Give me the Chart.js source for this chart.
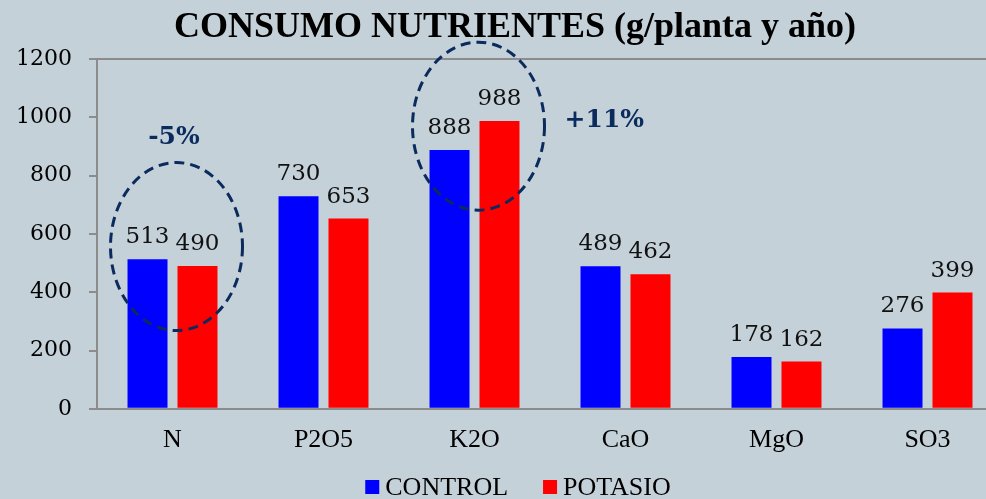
<!doctype html>
<html lang="es">
<head>
<meta charset="utf-8">
<title>Consumo nutrientes</title>
<style>
  html, body { margin: 0; padding: 0; background: #c5d1d8; overflow: hidden; }
  #wrap { width: 1030px; height: 499px; }
</style>
</head>
<body>
<div id="wrap"><canvas id="chart"></canvas></div>
<script src="https://cdn.jsdelivr.net/npm/chart.js"></script>
<script>
const categories = ['N', 'P2O5', 'K2O', 'CaO', 'MgO', 'SO3'];
const control = [513, 730, 888, 489, 178, 276];
const potasio = [490, 653, 988, 462, 162, 399];
const seriesNames = ['CONTROL', 'POTASIO'];
const seriesColors = ['#0000ff', '#ff0000'];
const yTicks = [0, 200, 400, 600, 800, 1000, 1200];

// dashed circles + percent notes (cat = category index, val = y value)
const notes = [
  { cat: 0, val: 557, text: '-5%', dx: 0.01, ty: 932 },
  { cat: 2, val: 970, text: '+11%', dx: 0.86, ty: 990 }
];

const navy = '#0b2a5e';
const axisGray = '#8c8c8c';

const extras = {
  id: 'extras',
  afterDatasetsDraw(chart) {
    const { ctx, scales: { x, y } } = chart;
    const step = x.getPixelForValue(1) - x.getPixelForValue(0);
    ctx.save();
    // value labels
    ctx.font = '23px "DejaVu Serif"';
    ctx.fillStyle = '#111';
    ctx.textAlign = 'center';
    ctx.textBaseline = 'alphabetic';
    chart.data.datasets.forEach((ds, i) => {
      chart.getDatasetMeta(i).data.forEach((bar, j) => {
        ctx.fillText(String(ds.data[j]), bar.x, bar.y - 16);
      });
    });
    // ellipses
    ctx.strokeStyle = navy;
    ctx.lineWidth = 3;
    ctx.setLineDash([10, 6]);
    notes.forEach(n => {
      const cx = x.getPixelForValue(n.cat) + 4;
      const cy = y.getPixelForValue(n.val);
      ctx.beginPath();
      ctx.ellipse(cx, cy, 66, 84, 0, 0, Math.PI * 2);
      ctx.stroke();
    });
    ctx.setLineDash([]);
    ctx.font = 'bold 25px "DejaVu Serif"';
    ctx.fillStyle = navy;
    ctx.textBaseline = 'middle';
    notes.forEach(n => {
      ctx.fillText(n.text, x.getPixelForValue(n.cat) + step * n.dx, y.getPixelForValue(n.ty));
    });

    // legend
    ctx.font = '26px "Liberation Serif"';
    ctx.textBaseline = 'middle';
    ctx.textAlign = 'left';
    const box = 14, gap = 6, itemGap = 35;
    const widths = seriesNames.map(s => box + gap + ctx.measureText(s).width);
    const total = widths.reduce((a, b) => a + b, 0) + itemGap * (widths.length - 1);
    let lx = chart.width / 2 + 3 - total / 2;
    const ly = 487;
    seriesNames.forEach((s, i) => {
      ctx.fillStyle = seriesColors[i];
      ctx.fillRect(lx, ly - box / 2, box, box);
      ctx.fillStyle = '#000';
      ctx.fillText(s, lx + box + gap, ly + 1);
      lx += widths[i] + itemGap;
    });
    ctx.restore();
  }
};

new Chart(document.getElementById('chart'), {
  type: 'bar',
  data: {
    labels: categories,
    datasets: seriesNames.map((name, i) => ({
      label: name,
      data: i === 0 ? control : potasio,
      backgroundColor: seriesColors[i]
    }))
  },
  options: {
    responsive: true,
    maintainAspectRatio: false,
    animation: false,
    categoryPercentage: 0.662,
    barPercentage: 0.8,
    layout: { padding: { left: 15, right: 15, top: 4, bottom: 35 } },
    plugins: {
      title: {
        display: true,
        text: 'CONSUMO NUTRIENTES (g/planta y año)',
        color: '#000',
        font: { family: '"Liberation Serif"', size: 36, weight: 'bold' },
        padding: { top: 2, bottom: 10 }
      },
      legend: { display: false },
      tooltip: { enabled: false }
    },
    scales: {
      x: {
        grid: { display: false },
        border: { color: axisGray, width: 2 },
        ticks: {
          color: '#000',
          font: { family: '"Liberation Serif"', size: 26 },
          padding: 8
        }
      },
      y: {
        min: 0,
        max: 1200,
        afterBuildTicks: axis => { axis.ticks = yTicks.map(v => ({ value: v })); },
        afterFit: axis => { axis.width = 82; },
        grid: {
          color: c => (c.tick && c.tick.value === 1200 ? axisGray : 'rgba(0,0,0,0)'),
          lineWidth: 2,
          tickColor: axisGray,
          tickLength: 8
        },
        border: { color: axisGray, width: 2 },
        ticks: {
          color: '#000',
          font: { family: '"DejaVu Serif"', size: 22 },
          padding: 17,
          callback: v => String(v)
        }
      },
      yr: {
        position: 'right',
        afterFit: axis => { axis.width = 12; },
        grid: { display: false },
        border: { display: false },
        ticks: { display: false }
      }
    }
  },
  plugins: [extras]
});
</script>
</body>
</html>
